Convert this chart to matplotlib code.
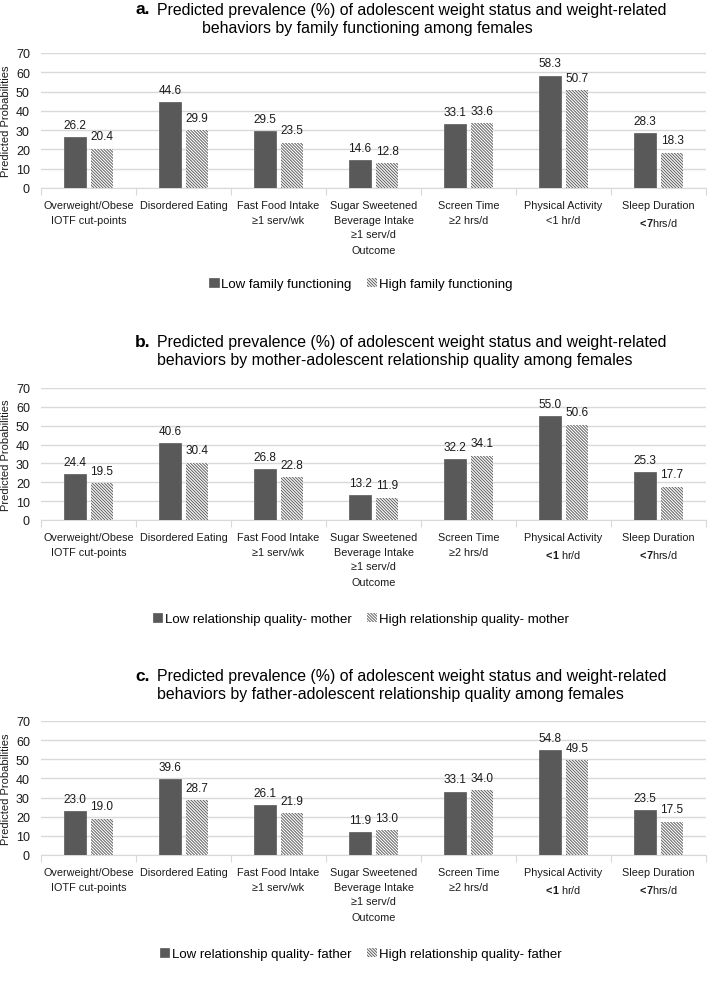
import numpy as np
import matplotlib
matplotlib.use("Agg")
from matplotlib import pyplot as plt

plt.rcParams['font.family'] = ['Liberation Sans', 'DejaVu Sans']
plt.rcParams['mathtext.fontset'] = 'custom'
plt.rcParams['mathtext.rm'] = 'Liberation Sans'
plt.rcParams['mathtext.bf'] = 'Liberation Sans:bold'
plt.rcParams['hatch.linewidth'] = 0.7

# outcome labels (panel a has plain "<1", panels b/c show the cut-offs in bold)
categories_a = [
    "Overweight/Obese\nIOTF cut-points",
    "Disordered Eating",
    "Fast Food Intake\n≥1 serv/wk",
    "Sugar Sweetened\nBeverage Intake\n≥1 serv/d",
    "Screen Time\n≥2 hrs/d",
    "Physical Activity\n<1 hr/d",
    "Sleep Duration\n$\\mathbf{\\!<\\!7}$hrs/d",
]
categories_bc = [
    "Overweight/Obese\nIOTF cut-points",
    "Disordered Eating",
    "Fast Food Intake\n≥1 serv/wk",
    "Sugar Sweetened\nBeverage Intake\n≥1 serv/d",
    "Screen Time\n≥2 hrs/d",
    "Physical Activity\n$\\mathbf{\\!<\\!1}$ hr/d",
    "Sleep Duration\n$\\mathbf{\\!<\\!7}$hrs/d",
]

# panel a - family functioning
low_family = [26.2, 44.6, 29.5, 14.6, 33.1, 58.3, 28.3]
high_family = [20.4, 29.9, 23.5, 12.8, 33.6, 50.7, 18.3]

# panel b - mother
low_mother = [24.4, 40.6, 26.8, 13.2, 32.2, 55.0, 25.3]
high_mother = [19.5, 30.4, 22.8, 11.9, 34.1, 50.6, 17.7]

# panel c - father
low_father = [23.0, 39.6, 26.1, 11.9, 33.1, 54.8, 23.5]
high_father = [19.0, 28.7, 21.9, 13.0, 34.0, 49.5, 17.5]

y_ticks = [0, 10, 20, 30, 40, 50, 60, 70]

panels = [
    ("a.", "behaviors by family functioning among females", categories_a,
     low_family, high_family,
     "Low family functioning", "High family functioning"),
    ("b.", "behaviors by mother-adolescent relationship quality among females", categories_bc,
     low_mother, high_mother,
     "Low relationship quality- mother", "High relationship quality- mother"),
    ("c.", "behaviors by father-adolescent relationship quality among females", categories_bc,
     low_father, high_father,
     "Low relationship quality- father", "High relationship quality- father"),
]

W, H = 722, 987
fig = plt.figure(figsize=(W / 100, H / 100), dpi=100)

# pixel layout of each panel: axes top, axes bottom, title line1 y, line2 y, line2 x, legend y
layout = [
    (54, 189, 10, 28, 202, 285),
    (389, 521, 343, 361, 157, 620),
    (722, 856, 677, 695, 157, 955),
]

dark = '#595959'
grid_c = '#d9d9d9'
hatch = chr(92) * 11   # dense back-slash hatch
w = 0.235
off = 0.142

for (letter, line2, cats, low, high, lab_low, lab_high), (top, bot, t1, t2, t2x, leg_y) in zip(panels, layout):
    x = np.arange(len(cats))
    ax = fig.add_axes([41 / W, 1 - bot / H, (706 - 41) / W, (bot - top) / H])
    b1 = ax.bar(x - off, low, w, color=dark, edgecolor=dark, linewidth=0.5,
                label=lab_low, zorder=3)
    b2 = ax.bar(x + off, high, w, color='white', edgecolor='#5f5f5f', linewidth=0,
                hatch=hatch, label=lab_high, zorder=3)
    for bars, vals in ((b1, low), (b2, high)):
        for rect, v in zip(bars, vals):
            ax.annotate(f"{v:.1f}", (rect.get_x() + rect.get_width() / 2, v),
                        xytext=(0, 4.5), textcoords='offset points',
                        ha='center', va='bottom', fontsize=8.5, color='#1a1a1a')

    ax.set_ylim(0, 70)
    ax.set_xlim(-0.5, len(cats) - 0.5)
    ax.set_yticks(y_ticks)
    ax.yaxis.grid(True, color=grid_c, linewidth=1, zorder=0)
    ax.set_axisbelow(True)
    for s in ['top', 'right', 'left']:
        ax.spines[s].set_visible(False)
    ax.spines['bottom'].set_color(grid_c)
    ax.tick_params(axis='y', length=0, labelsize=9, pad=8, labelcolor='#1a1a1a')

    # category boundaries as major ticks, names as minor ticks
    ax.set_xticks(np.arange(-0.5, len(cats), 1.0))
    ax.set_xticklabels([])
    ax.tick_params(axis='x', which='major', length=5, color=grid_c)
    ax.set_xticks(x, minor=True)
    ax.set_xticklabels(cats, minor=True, fontsize=7.8, linespacing=1.6,
                       va='top', color='#1a1a1a')
    ax.tick_params(axis='x', which='minor', length=0, pad=8.5)

    ax.set_ylabel("Predicted Probabilities", fontsize=8, color='#1a1a1a')
    ax.yaxis.set_label_coords((11 - 41) / 665, 0.5)
    ax.set_xlabel("Outcome", fontsize=7.8, labelpad=4, color='#1a1a1a')

    # titles
    fig.text(135 / W, 1 - t1 / H, letter, fontsize=12.5, fontweight='bold',
             ha='left', va='center')
    fig.text(157 / W, 1 - t1 / H,
             "Predicted prevalence (%) of adolescent weight status and weight-related",
             fontsize=11.4, ha='left', va='center')
    fig.text(t2x / W, 1 - t2 / H, line2, fontsize=11.4, ha='left', va='center')

    fig.legend(handles=[b1, b2], loc='center', bbox_to_anchor=(0.5, 1 - leg_y / H),
               ncol=2, frameon=False, fontsize=9.5, handlelength=0.7, handleheight=0.7,
               handletextpad=0.2, columnspacing=1.2)

fig.savefig("out.png", dpi=100)
